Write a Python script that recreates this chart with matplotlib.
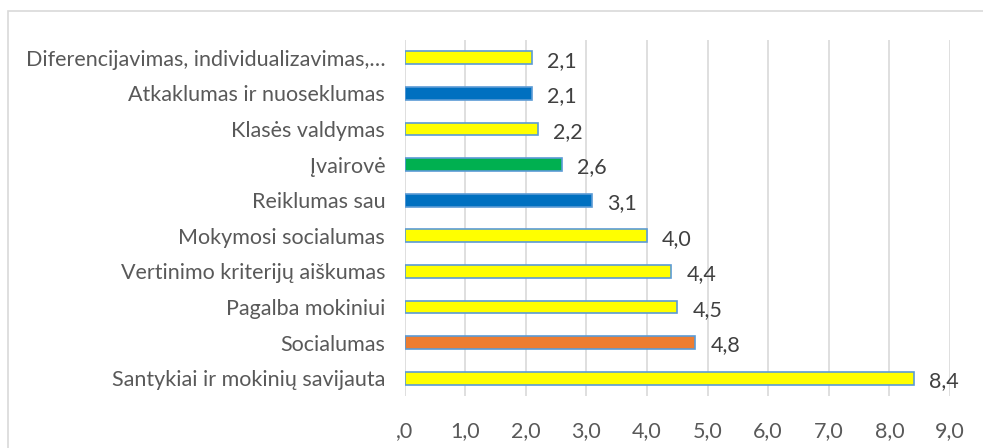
import matplotlib
matplotlib.use("Agg")
import matplotlib.pyplot as plt
import matplotlib.patches as mpatches

plt.rcParams['font.family'] = ['Lato', 'DejaVu Sans']

# categories listed bottom to top
categories = ["Santykiai ir mokinių savijauta", "Socialumas", "Pagalba mokiniui",
              "Vertinimo kriterijų aiškumas", "Mokymosi socialumas", "Reiklumas sau",
              "Įvairovė", "Klasės valdymas", "Atkaklumas ir nuoseklumas",
              "Diferencijavimas, individualizavimas,…"]
values = [8.4, 4.8, 4.5, 4.4, 4.0, 3.1, 2.6, 2.2, 2.1, 2.1]
bar_colors = ["#FFFF00", "#ED7D31", "#FFFF00", "#FFFF00", "#FFFF00", "#0070C0",
              "#00B050", "#FFFF00", "#0070C0", "#FFFF00"]
xticks = [0, 1, 2, 3, 4, 5, 6, 7, 8, 9]
xtick_labels = [",0", "1,0", "2,0", "3,0", "4,0", "5,0", "6,0", "7,0", "8,0", "9,0"]

fig = plt.figure(figsize=(9.83, 4.48), dpi=100)
ax = fig.add_axes([0.4116, 0.116, 0.5548, 0.7947])

ypos = range(len(categories))
ax.barh(ypos, values, height=0.36, color=bar_colors, edgecolor="#5B9BD5",
        linewidth=1.2, zorder=3)

fs = 15.5
text_color = "#404040"
for y, v in zip(ypos, values):
    ax.text(v + 0.25, y - 0.08, f"{v:.1f}".replace(".", ","), va="center", ha="left",
            fontsize=fs, color=text_color)

ax.set_xlim(0, 9)
ax.set_ylim(-0.5, len(categories) - 0.5)
ax.set_xticks(xticks)
ax.set_xticklabels(xtick_labels)
ax.set_yticks(list(ypos))
ax.set_yticklabels(categories)
ax.tick_params(axis="x", length=0, pad=18, labelsize=fs, labelcolor="#595959")
ax.tick_params(axis="y", length=0, pad=14, labelsize=fs, labelcolor="#595959")
ax.grid(axis="x", color="#D9D9D9", linewidth=1.2, zorder=0)
for s in ax.spines.values():
    s.set_visible(False)

# chart frame, only top and left edges fall inside the image
top = 1 - 11 / 448
fig.patches.append(mpatches.Rectangle((8 / 983, -0.1), 1.2, top + 0.1,
                                      transform=fig.transFigure, fill=False,
                                      edgecolor="#D9D9D9", linewidth=1.2))

fig.savefig("out.png", dpi=100)
